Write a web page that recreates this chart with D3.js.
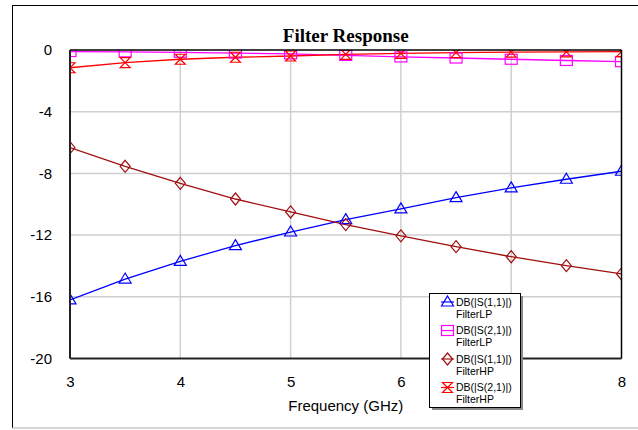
<!DOCTYPE html>
<html>
<head>
<meta charset="utf-8">
<style>
body{margin:0;background:#fff;}
svg{display:block;font-family:Arial,"Liberation Sans",sans-serif;}
</style>
</head>
<body>
<svg id="svg" width="638" height="430"></svg>
<script src="https://cdnjs.cloudflare.com/ajax/libs/d3/7.8.5/d3.min.js"></script>
<script>
// frequency points (GHz)
var freq = [3, 3.5, 4, 4.5, 5, 5.5, 6, 6.5, 7, 7.5, 8]
// dB values
var s11LP = [-16.2, -14.85, -13.7, -12.68, -11.8, -11.0, -10.3, -9.57, -8.94, -8.38, -7.86]
var s21LP = [-0.1, -0.12, -0.15, -0.2, -0.25, -0.35, -0.45, -0.52, -0.6, -0.68, -0.76]
var s11HP = [-6.33, -7.54, -8.64, -9.66, -10.5, -11.32, -12.05, -12.75, -13.4, -13.98, -14.52]
var s21HP = [-1.15, -0.82, -0.6, -0.47, -0.39, -0.28, -0.22, -0.17, -0.14, -0.12, -0.1]
var xTicks = [3, 4, 5, 6, 7, 8]
var yTicks = [0, -4, -8, -12, -16, -20]
// the "7" label sits under the legend in the original, so it is not shown
var xHidden = [7]

var series = [
  {name: 'DB(|S(1,1)|)', sub: 'FilterLP', vals: s11LP, color: '#0000ff', marker: 'tri'},
  {name: 'DB(|S(2,1)|)', sub: 'FilterLP', vals: s21LP, color: '#ff00ff', marker: 'sq'},
  {name: 'DB(|S(1,1)|)', sub: 'FilterHP', vals: s11HP, color: '#a01010', marker: 'dia'},
  {name: 'DB(|S(2,1)|)', sub: 'FilterHP', vals: s21HP, color: '#ff0000', marker: 'hg'}
]

var margin = {top: 50, left: 70, right: 621.5, bottom: 358.5}
var x = d3.scaleLinear().domain([3, 8]).range([margin.left, margin.right])
var y = d3.scaleLinear().domain([0, -20]).range([margin.top, margin.bottom])

var svg = d3.select('#svg')

// outer frame
svg.append('line').attr('x1', 12).attr('x2', 638).attr('y1', 5.5).attr('y2', 5.5)
  .attr('stroke', '#000').attr('stroke-width', 1)
svg.append('line').attr('x1', 12.5).attr('x2', 12.5).attr('y1', 5).attr('y2', 428)
  .attr('stroke', '#000').attr('stroke-width', 1)
svg.append('line').attr('x1', 12).attr('x2', 638).attr('y1', 428).attr('y2', 428)
  .attr('stroke', '#aaa').attr('stroke-width', 1)

svg.append('clipPath').attr('id', 'clip').append('rect')
  .attr('x', margin.left).attr('y', margin.top)
  .attr('width', margin.right - margin.left).attr('height', margin.bottom - margin.top)

// grid
var grid = svg.append('g')
grid.selectAll('.vx').data(xTicks.slice(1, -1)).enter().append('line')
  .attr('x1', d => x(d)).attr('x2', d => x(d))
  .attr('y1', margin.top).attr('y2', margin.bottom)
  .attr('stroke', '#cfcfcf').attr('stroke-width', 1.5)
grid.selectAll('.hy').data(yTicks.slice(1, -1)).enter().append('line')
  .attr('x1', margin.left).attr('x2', margin.right)
  .attr('y1', d => y(d)).attr('y2', d => y(d))
  .attr('stroke', '#cfcfcf').attr('stroke-width', 1.5)

// axes labels (plain hyphen minus like the original)
var fmt = d => String(d)
var yAxis = d3.axisLeft(y).tickValues(yTicks).tickFormat(fmt).tickSize(0).tickPadding(18)
svg.append('g').attr('transform', 'translate(' + margin.left + ',0)').call(yAxis)
  .call(g => g.select('.domain').remove())
  .selectAll('text').attr('font-size', 15).attr('font-family', 'Arial,"Liberation Sans",sans-serif').attr('fill', '#000')
var xAxis = d3.axisBottom(x).tickValues(xTicks.filter(d => xHidden.indexOf(d) < 0))
  .tickFormat(fmt).tickSize(0).tickPadding(18)
svg.append('g').attr('transform', 'translate(0,' + margin.bottom + ')').call(xAxis)
  .call(g => g.select('.domain').remove())
  .selectAll('text').attr('font-size', 15).attr('font-family', 'Arial,"Liberation Sans",sans-serif').attr('fill', '#000')

svg.append('text').attr('x', (margin.left + margin.right) / 2).attr('y', 411)
  .attr('text-anchor', 'middle').attr('font-size', 15).text('Frequency (GHz)')
svg.append('text').attr('x', (margin.left + margin.right) / 2).attr('y', 42)
  .attr('text-anchor', 'middle').attr('font-size', 19).attr('font-weight', 'bold')
  .attr('font-family', '"Liberation Serif","Times New Roman",serif').text('Filter Response')

function drawMarker(g, type, color) {
  if (type == 'tri') {
    g.append('path').attr('d', 'M0,-6L6,4L-6,4Z')
  } else if (type == 'sq') {
    g.append('rect').attr('x', -6).attr('y', -5).attr('width', 12).attr('height', 10)
  } else if (type == 'dia') {
    g.append('path').attr('d', 'M0,-6L5,0L0,6L-5,0Z')
  } else {
    g.append('path').attr('d', 'M-5,-5L5,-5L-5,5L5,5Z')
  }
  g.selectAll('*').attr('fill', 'none').attr('stroke', color).attr('stroke-width', 1.2)
}

// series
var plot = svg.append('g').attr('clip-path', 'url(#clip)')
var line = d3.line().x((d, i) => x(freq[i])).y(d => y(d))
series.forEach(function (s) {
  plot.append('path').attr('d', line(s.vals)).attr('fill', 'none')
    .attr('stroke', s.color).attr('stroke-width', 1.3)
})
series.forEach(function (s) {
  s.vals.forEach(function (v, i) {
    var g = plot.append('g').attr('transform', 'translate(' + x(freq[i]) + ',' + y(v) + ')')
    drawMarker(g, s.marker, s.color)
  })
})

// plot frame
svg.append('line').attr('x1', margin.left).attr('x2', margin.right).attr('y1', margin.top).attr('y2', margin.top)
  .attr('stroke', '#000').attr('stroke-width', 1.5)
svg.append('line').attr('x1', margin.right).attr('x2', margin.right).attr('y1', margin.top).attr('y2', margin.bottom)
  .attr('stroke', '#000').attr('stroke-width', 1.5)
svg.append('line').attr('x1', margin.left).attr('x2', margin.right).attr('y1', margin.bottom).attr('y2', margin.bottom)
  .attr('stroke', '#222').attr('stroke-width', 2)
svg.append('line').attr('x1', margin.left).attr('x2', margin.left).attr('y1', margin.top).attr('y2', margin.bottom)
  .attr('stroke', '#222').attr('stroke-width', 2)

// legend
var lg = svg.append('g').attr('transform', 'translate(429,293)')
lg.append('rect').attr('x', 3).attr('y', 3).attr('width', 91).attr('height', 114).attr('fill', '#888')
lg.append('rect').attr('x', 0.5).attr('y', 0.5).attr('width', 91).attr('height', 114)
  .attr('fill', '#fff').attr('stroke', '#000').attr('stroke-width', 1)
series.forEach(function (s, i) {
  var row = lg.append('g').attr('transform', 'translate(0,' + (9 + i * 28.5) + ')')
  row.append('line').attr('x1', 12).attr('x2', 25).attr('y1', 0).attr('y2', 0)
    .attr('stroke', s.color).attr('stroke-width', 1.2)
  drawMarker(row.append('g').attr('transform', 'translate(18.5,0)'), s.marker, s.color)
  row.append('text').attr('x', 27).attr('y', 3.5).attr('font-size', 10.5).text(s.name)
  row.append('text').attr('x', 27).attr('y', 15.5).attr('font-size', 10.5).text(s.sub)
})
</script>
</body>
</html>
